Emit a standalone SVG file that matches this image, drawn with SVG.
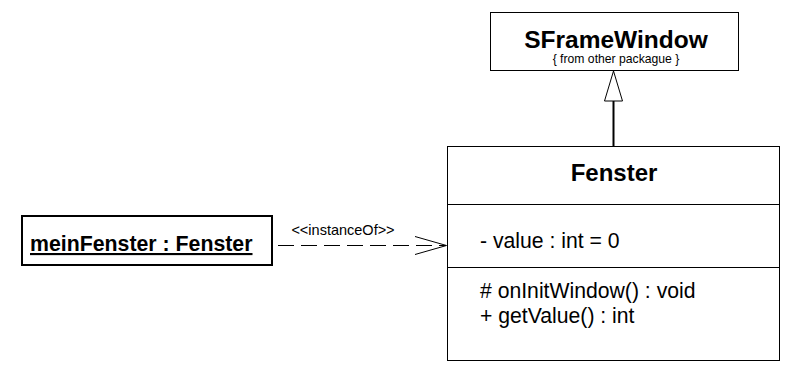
<svg xmlns="http://www.w3.org/2000/svg" width="799" height="374" viewBox="0 0 799 374">
<style>
.box{fill:#fff;stroke:#000;stroke-width:1}
.t{font-family:"Liberation Sans",Arial,sans-serif;fill:#000}
.b{font-weight:bold}
.ln{stroke:#000;fill:none}
</style>
<rect width="799" height="374" fill="#fff"/>
<g id="connectors">
<g id="generalization">
<line class="ln" x1="613.5" y1="101" x2="613.5" y2="146" stroke-width="2"/>
<polygon points="613.5,71 604.5,101 622.5,101" fill="#fff" stroke="#000" stroke-width="1"/>
</g>
<g id="instanceOf">
<line class="ln" x1="278" y1="245.5" x2="446" y2="245.5" stroke-dasharray="16,7"/>
<polyline class="ln" points="415,236.5 446.5,245.5 415,254.5"/>
<text class="t" x="343" y="235" font-size="14.5" text-anchor="middle">&lt;&lt;instanceOf&gt;&gt;</text>
</g>
</g>
<g id="SFrameWindow">
<rect class="box" x="490.5" y="12.5" width="248" height="58"/>
<text class="t b" x="616" y="48" font-size="24.5" text-anchor="middle">SFrameWindow</text>
<text class="t" x="616" y="63" font-size="12.2" text-anchor="middle">{ from other packague }</text>
</g>
<g id="Fenster">
<rect class="box" x="447.5" y="146.5" width="332" height="214"/>
<line class="ln" x1="447.5" y1="204.5" x2="779.5" y2="204.5"/>
<line class="ln" x1="447.5" y1="267.5" x2="779.5" y2="267.5"/>
<text class="t b" x="614" y="181" font-size="24" text-anchor="middle">Fenster</text>
<text class="t" x="480" y="248" font-size="21.2">- value : int = 0</text>
<text class="t" x="480" y="298" font-size="21.2"># onInitWindow() : void</text>
<text class="t" x="480" y="323" font-size="21.2">+ getValue() : int</text>
</g>
<g id="meinFenster">
<rect x="22" y="216" width="250" height="49" fill="#fff" stroke="#000" stroke-width="2"/>
<text class="t b" x="30" y="251" font-size="21.3" text-decoration="underline">meinFenster : Fenster</text>
</g>
</svg>
